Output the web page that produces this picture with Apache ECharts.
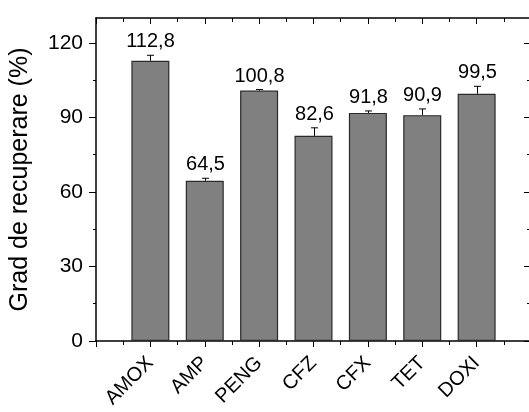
<!DOCTYPE html>
<html>
<head>
<meta charset="utf-8">
<script src="https://cdn.jsdelivr.net/npm/echarts@6/dist/echarts.min.js"></script>
<style>
html,body{margin:0;padding:0;background:#fff;}
#chart{width:529px;height:412px;}
</style>
</head>
<body>
<div id="chart"></div>
<script>
const categories = ['AMOX', 'AMP', 'PENG', 'CFZ', 'CFX', 'TET', 'DOXI'];
const values = [112.8, 64.5, 100.8, 82.6, 91.8, 90.9, 99.5];
const errors = [2.2, 1.0, 0.4, 3.2, 0.8, 2.5, 3.0];
const yMajorTicks = [0, 30, 60, 90, 120];
const yMinorTicks = [15, 45, 75, 105];

const FONT = 'Liberation Sans, Arial, sans-serif';
const fmt = v => v.toFixed(1).replace('.', ',');

const chart = echarts.init(document.getElementById('chart'), null, {renderer: 'canvas'});

const axisLineStyle = {color: '#000', width: 1.5};
const tickStyle = {color: '#000', width: 1};

function yAx(position, inside, ticks, len, main) {
  return {
    type: 'value', position: position, min: 0, max: 130,
    gridIndex: 0,
    axisLine: {show: main, onZero: false, lineStyle: axisLineStyle},
    axisTick: {show: true, inside: inside, length: len, customValues: ticks, lineStyle: tickStyle},
    axisLabel: (main && position === 'left') ? {
      show: true, customValues: yMajorTicks, fontSize: 21, color: '#000', fontFamily: FONT, margin: 13
    } : {show: false},
    splitLine: {show: false},
    name: (main && position === 'left') ? 'Grad de recuperare (%)' : '',
    nameLocation: 'middle', nameGap: 63,
    nameTextStyle: {fontSize: 25, color: '#000', fontFamily: FONT}
  };
}

const option = {
  animation: false,
  backgroundColor: '#fff',
  grid: {left: 96, top: 18, width: 435, height: 323, containLabel: false, outerBoundsMode: 'none'},
  xAxis: [
    {
      type: 'value', position: 'bottom', min: 0, max: 8, interval: 1,
      axisLine: {show: true, onZero: false, lineStyle: axisLineStyle},
      axisTick: {show: true, inside: false, length: 6, lineStyle: tickStyle},
      minorTick: {show: true, splitNumber: 2, length: 4, lineStyle: tickStyle},
      axisLabel: {
        show: true, rotate: 45, fontSize: 20, color: '#000', fontFamily: FONT, margin: 19,
        formatter: v => (v >= 1 && v <= categories.length) ? categories[v - 1] : ''
      },
      splitLine: {show: false}, minorSplitLine: {show: false}
    },
    {
      type: 'value', position: 'top', min: 0, max: 8, interval: 1,
      axisLine: {show: true, onZero: false, lineStyle: axisLineStyle},
      axisTick: {show: true, inside: true, length: 6, lineStyle: tickStyle},
      minorTick: {show: true, splitNumber: 2, length: 4, lineStyle: tickStyle},
      axisLabel: {show: false},
      splitLine: {show: false}, minorSplitLine: {show: false}
    }
  ],
  yAxis: [
    yAx('left', false, yMajorTicks, 7, true),
    yAx('left', false, yMinorTicks, 3, false),
    yAx('right', true, yMajorTicks, 7, true),
    yAx('right', true, yMinorTicks, 4, false)
  ],
  series: [
    {
      type: 'bar', xAxisIndex: 0, yAxisIndex: 0,
      barWidth: 38,
      data: values.map((v, i) => [i + 1, v]),
      itemStyle: {color: '#808080', borderColor: '#2a2a2a', borderWidth: 1.2},
      z: 2
    },
    {
      type: 'custom', xAxisIndex: 0, yAxisIndex: 0,
      data: values.map((v, i) => [i + 1, v, errors[i]]),
      encode: {x: 0, y: 1},
      z: 5,
      renderItem: function (params, api) {
        const x = api.value(0), v = api.value(1), e = api.value(2);
        const p0 = api.coord([x, v]);
        const p1 = api.coord([x, v + e]);
        const cx = Math.round(p0[0]) + 0.5;
        return {
          type: 'group',
          children: [
            {type: 'line', shape: {x1: cx, y1: p0[1], x2: cx, y2: p1[1]}, style: {stroke: '#000', lineWidth: 1}},
            {type: 'line', shape: {x1: cx - 3.5, y1: p1[1], x2: cx + 3.5, y2: p1[1]}, style: {stroke: '#000', lineWidth: 1}},
            {type: 'text', style: {
              text: fmt(v), x: cx, y: p1[1] - 3.5,
              textAlign: 'center', textVerticalAlign: 'bottom',
              fontSize: 20, fontFamily: FONT, fill: '#000'
            }}
          ]
        };
      }
    }
  ]
};

chart.setOption(option);
</script>
</body>
</html>
